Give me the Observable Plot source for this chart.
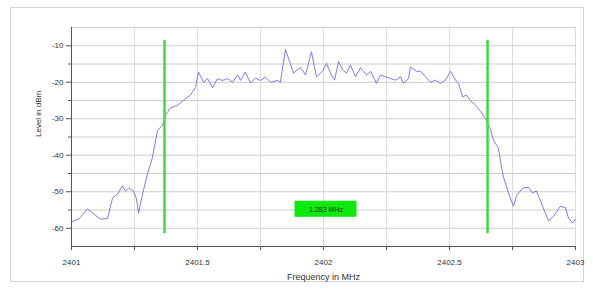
<!DOCTYPE html>
<html><head><meta charset="utf-8">
<script src="https://cdn.jsdelivr.net/npm/d3@7"></script>
<script src="https://cdn.jsdelivr.net/npm/@observablehq/plot@0.6"></script>
<style>
body{margin:0;background:#fff;font-family:"Liberation Sans",Arial,sans-serif}
#wrap{position:relative;width:593px;height:289px}
#frame{position:absolute;left:10px;top:7px;width:574px;height:275px;border:1px solid #d4d4d4;box-sizing:border-box;pointer-events:none}
</style></head><body>
<div id="wrap"><div id="frame"></div></div>
<script>
const freq = [2401.000,2401.008,2401.028,2401.048,2401.063,2401.087,2401.115,2401.143,2401.163,2401.183,2401.202,2401.214,2401.226,2401.246,2401.258,2401.266,2401.282,2401.302,2401.321,2401.341,2401.361,2401.373,2401.393,2401.421,2401.444,2401.472,2401.492,2401.504,2401.524,2401.540,2401.560,2401.579,2401.599,2401.619,2401.639,2401.659,2401.671,2401.690,2401.710,2401.730,2401.750,2401.770,2401.790,2401.817,2401.829,2401.849,2401.869,2401.881,2401.897,2401.909,2401.929,2401.952,2401.972,2401.996,2402.012,2402.028,2402.044,2402.060,2402.075,2402.091,2402.107,2402.127,2402.147,2402.159,2402.171,2402.187,2402.210,2402.226,2402.246,2402.266,2402.286,2402.306,2402.317,2402.337,2402.345,2402.369,2402.385,2402.405,2402.425,2402.444,2402.464,2402.484,2402.504,2402.524,2402.536,2402.552,2402.567,2402.583,2402.603,2402.623,2402.643,2402.663,2402.675,2402.694,2402.702,2402.714,2402.734,2402.754,2402.766,2402.790,2402.813,2402.829,2402.845,2402.861,2402.893,2402.913,2402.940,2402.960,2402.972,2402.988,2403.000];
const level = [-58.5,-58,-57.5,-56,-54.7,-56,-57.5,-57.3,-51.7,-50.6,-48.4,-49.8,-49,-49.8,-52,-55.9,-50.6,-45,-40.7,-33.2,-31.8,-29,-27,-26.3,-25,-23.5,-21.5,-17.2,-20,-19,-21.5,-19,-19.5,-19,-20,-18,-19.5,-17.2,-20.2,-18.9,-19.5,-18.6,-20,-19.5,-20,-11,-15,-17.5,-16.5,-16,-18,-11.6,-18.5,-17,-14.8,-17.5,-19.4,-14.3,-16.5,-17.5,-15.3,-18.5,-16,-17,-18,-17,-20.3,-18,-18.5,-19,-19.4,-18.5,-20.3,-19,-15.8,-17,-17,-18.5,-20,-19.4,-20.3,-19.4,-17,-19.4,-20.3,-24,-23.5,-25,-26.3,-28,-30,-33,-36,-38,-41.5,-46,-50.3,-54,-51,-49,-48.8,-50.3,-49.8,-52.5,-58,-56.7,-54,-54.3,-57.2,-58.6,-57.5];
const markers = [2401.369, 2402.651];
const bandwidthLabel = "1.283 MHz";
const xTicks = [2401, 2401.5, 2402, 2402.5, 2403];
const xMinor = [2401.25, 2401.75, 2402.25, 2402.75];
const yTicks = [-60, -50, -40, -30, -20, -10];
const yMinor = [-55, -45, -35, -25, -15];

const trace = freq.map((f, i) => ({f, v: level[i]}));
const mid = (markers[0] + markers[1]) / 2;
const fmt = d => String(d);

const chart = Plot.plot({
  width: 593, height: 289,
  marginLeft: 71, marginRight: 18, marginTop: 27, marginBottom: 43,
  style: {fontFamily: "Liberation Sans, Arial, sans-serif", fontSize: "8px", color: "#333", background: "transparent"},
  x: {domain: [2401, 2403]},
  y: {domain: [-65, -5]},
  marks: [
    Plot.gridY([...yTicks, ...yMinor, -5], {stroke: "#cccccc", strokeOpacity: 1}),
    Plot.gridX([...xMinor, 2401.5, 2402, 2402.5, 2403], {stroke: "#dddddd", strokeOpacity: 1}),
    Plot.axisY(yTicks, {tickSize: 5, tickPadding: 3, stroke: "#555", fill: "#333", label: null, tickFormat: fmt}),
    Plot.axisY(yMinor, {tickSize: 3, text: null, stroke: "#555", label: null}),
    Plot.axisX(xTicks, {tickSize: 4, tickPadding: 9, stroke: "#555", fill: "#333", label: null, tickFormat: fmt}),
    Plot.axisX(xMinor, {tickSize: 4, text: null, stroke: "#555", label: null}),
    Plot.ruleX([2401], {stroke: "#555"}),
    Plot.ruleY([-65], {stroke: "#555"}),
    Plot.line(trace, {x: "f", y: "v", stroke: "#6f6fe0", strokeWidth: 0.9}),
    Plot.ruleX(markers, {y1: -61.5, y2: -8.5, stroke: "#3cdc3c", strokeWidth: 2.5}),
    Plot.rect([mid], {x1: d => d - 0.123, x2: d => d + 0.123, y1: -52.6, y2: -57, fill: "#0de80d"}),
    Plot.text([mid], {x: d => d, y: -54.8, text: () => bandwidthLabel, fill: "#143014", fontSize: 7}),
    Plot.text(["Level in dBm"], {frameAnchor: "left", dx: -33, rotate: -90, fill: "#333", fontSize: 8}),
    Plot.text(["Frequency in MHz"], {frameAnchor: "bottom", dy: 33, fill: "#333", fontSize: 9})
  ]
});
document.getElementById("wrap").appendChild(chart);
chart.style.position = "absolute"; chart.style.left = "0"; chart.style.top = "0";
</script>
</body></html>
